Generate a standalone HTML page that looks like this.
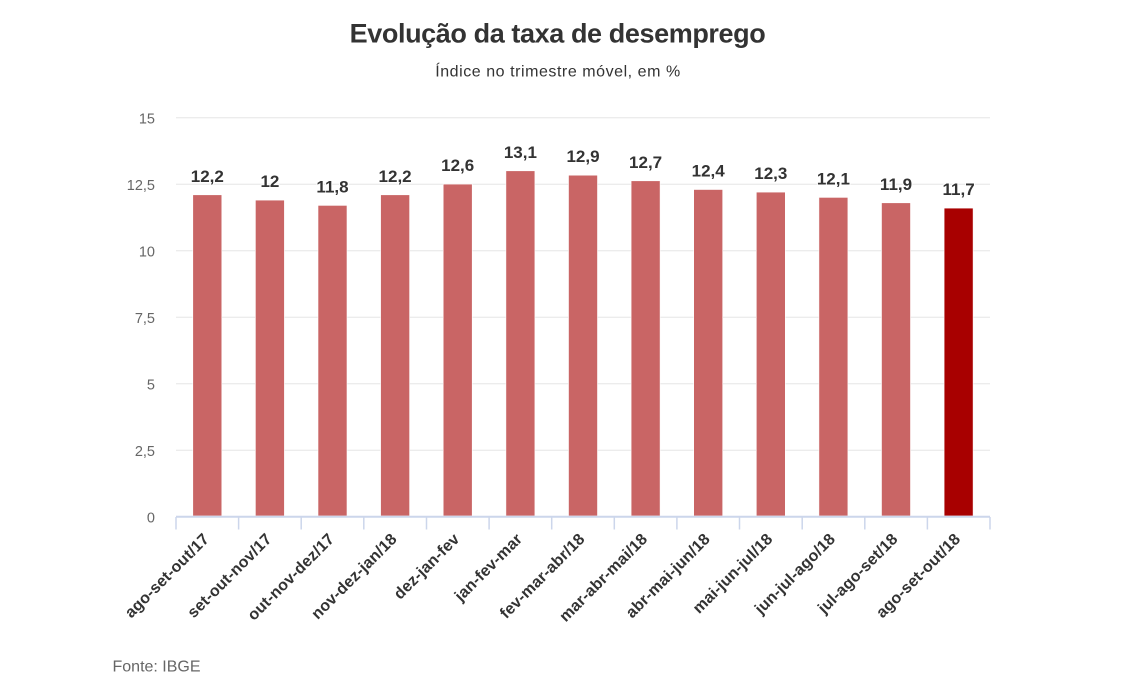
<!DOCTYPE html>
<html>
<head>
<meta charset="utf-8">
<style>
html,body{margin:0;padding:0;background:#fff;}
svg{display:block;}
text{font-family:"Liberation Sans",Arial,sans-serif;}
</style>
</head>
<body>
<svg width="1140" height="686" viewBox="0 0 1140 686" xmlns="http://www.w3.org/2000/svg">
<rect width="1140" height="686" fill="#fff"/>
<text x="557.5" y="42.3" text-anchor="middle" font-size="27" font-weight="bold" letter-spacing="-0.4" fill="#333">Evolução da taxa de desemprego</text>
<text x="558" y="76.7" text-anchor="middle" font-size="16" letter-spacing="0.55" fill="#333">Índice no trimestre móvel, em %</text>

<g stroke="#e6e6e6" stroke-width="1">
<line x1="176" y1="117.7" x2="990" y2="117.7"/>
<line x1="176" y1="184.2" x2="990" y2="184.2"/>
<line x1="176" y1="250.7" x2="990" y2="250.7"/>
<line x1="176" y1="317.2" x2="990" y2="317.2"/>
<line x1="176" y1="383.7" x2="990" y2="383.7"/>
<line x1="176" y1="450.2" x2="990" y2="450.2"/>
</g>

<g font-size="14.5" fill="#666" text-anchor="end">
<text x="155" y="123.5">15</text>
<text x="155" y="190">12,5</text>
<text x="155" y="256.5">10</text>
<text x="155" y="323">7,5</text>
<text x="155" y="389.5">5</text>
<text x="155" y="456">2,5</text>
<text x="155" y="522.5">0</text>
</g>

<g fill="#c96565" stroke="#fff" stroke-width="0.6">
<rect x="192.8" y="194.8" width="29" height="321.2"/>
<rect x="255.4" y="200.1" width="29" height="315.9"/>
<rect x="318.0" y="205.4" width="29" height="310.6"/>
<rect x="380.6" y="194.8" width="29" height="321.2"/>
<rect x="443.2" y="184.1" width="29" height="331.9"/>
<rect x="505.9" y="170.8" width="29" height="345.2"/>
<rect x="568.5" y="175.2" width="29" height="340.8"/>
<rect x="631.1" y="180.8" width="29" height="335.2"/>
<rect x="693.7" y="189.5" width="29" height="326.5"/>
<rect x="756.3" y="192.1" width="29" height="323.9"/>
<rect x="818.9" y="197.4" width="29" height="318.6"/>
<rect x="881.5" y="202.8" width="29" height="313.2"/>
</g>
<rect x="944.1" y="208.1" width="29" height="307.9" fill="#a80000" stroke="#fff" stroke-width="0.6"/>

<g font-size="17" font-weight="bold" fill="#333" text-anchor="middle" stroke="#fff" stroke-width="2" paint-order="stroke" stroke-linejoin="round">
<text x="207.3" y="181.8">12,2</text>
<text x="269.9" y="187.1">12</text>
<text x="332.5" y="192.4">11,8</text>
<text x="395.1" y="181.8">12,2</text>
<text x="457.7" y="171.1">12,6</text>
<text x="520.4" y="157.8">13,1</text>
<text x="583.0" y="162.2">12,9</text>
<text x="645.6" y="167.8">12,7</text>
<text x="708.2" y="176.5">12,4</text>
<text x="770.8" y="179.1">12,3</text>
<text x="833.4" y="184.4">12,1</text>
<text x="896.0" y="189.8">11,9</text>
<text x="958.6" y="195.1">11,7</text>
</g>

<line x1="176" y1="516.7" x2="990" y2="516.7" stroke="#ccd6eb" stroke-width="2"/>
<g stroke="#ccd6eb" stroke-width="1.5">
<line x1="176.0" y1="517" x2="176.0" y2="529.5"/>
<line x1="238.6" y1="517" x2="238.6" y2="529.5"/>
<line x1="301.2" y1="517" x2="301.2" y2="529.5"/>
<line x1="363.8" y1="517" x2="363.8" y2="529.5"/>
<line x1="426.5" y1="517" x2="426.5" y2="529.5"/>
<line x1="489.1" y1="517" x2="489.1" y2="529.5"/>
<line x1="551.7" y1="517" x2="551.7" y2="529.5"/>
<line x1="614.3" y1="517" x2="614.3" y2="529.5"/>
<line x1="676.9" y1="517" x2="676.9" y2="529.5"/>
<line x1="739.5" y1="517" x2="739.5" y2="529.5"/>
<line x1="802.2" y1="517" x2="802.2" y2="529.5"/>
<line x1="864.8" y1="517" x2="864.8" y2="529.5"/>
<line x1="927.4" y1="517" x2="927.4" y2="529.5"/>
<line x1="990.0" y1="517" x2="990.0" y2="529.5"/>
</g>

<g font-size="16" font-weight="bold" fill="#333" text-anchor="end" letter-spacing="0.15">
<text transform="translate(210,540) rotate(-45)">ago-set-out/17</text>
<text transform="translate(272.6,540) rotate(-45)">set-out-nov/17</text>
<text transform="translate(335.2,540) rotate(-45)">out-nov-dez/17</text>
<text transform="translate(397.8,540) rotate(-45)">nov-dez-jan/18</text>
<text transform="translate(460.4,540) rotate(-45)">dez-jan-fev</text>
<text transform="translate(523.1,540) rotate(-45)">jan-fev-mar</text>
<text transform="translate(585.7,540) rotate(-45)">fev-mar-abr/18</text>
<text transform="translate(648.3,540) rotate(-45)">mar-abr-mai/18</text>
<text transform="translate(710.9,540) rotate(-45)">abr-mai-jun/18</text>
<text transform="translate(773.5,540) rotate(-45)">mai-jun-jul/18</text>
<text transform="translate(836.1,540) rotate(-45)">jun-jul-ago/18</text>
<text transform="translate(898.7,540) rotate(-45)">jul-ago-set/18</text>
<text transform="translate(961.3,540) rotate(-45)">ago-set-out/18</text>
</g>

<text x="112.5" y="671.5" font-size="16" fill="#666">Fonte: IBGE</text>
</svg>
</body>
</html>
